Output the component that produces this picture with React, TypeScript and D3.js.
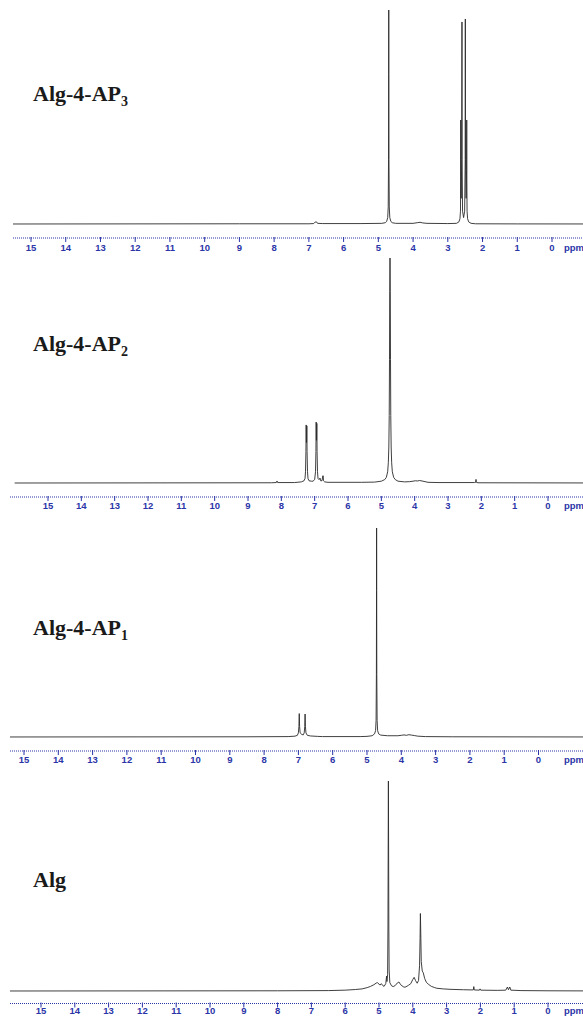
import React from "react";
import * as d3 from "d3";

// ---------- data ----------
const ppmTicks: number[] = [15, 14, 13, 12, 11, 10, 9, 8, 7, 6, 5, 4, 3, 2, 1, 0];
const panelLabels: string[] = ["Alg-4-AP", "Alg-4-AP", "Alg-4-AP", "Alg"];
const panelSubs: string[] = ["3", "2", "1", ""];

// [ppm, relative intensity]
const spectrumAP3: [number, number][] = [
  [16, 0], [9, 0.1], [7.0, 0.1], [6.86, 0.2], [6.82, 0.9], [6.78, 1.0], [6.75, 0.3], [6.6, 0.2], [5.5, 0.2],
  [4.9, 0.3], [4.8, 0.6], [4.76, 1.2], [4.73, 3], [4.715, 8], [4.706, 30], [4.702, 70], [4.7, 100],
  [4.698, 70], [4.694, 30], [4.685, 8], [4.67, 3], [4.64, 1.2], [4.6, 0.6], [4.5, 0.3],
  [4.0, 0.3], [3.88, 0.6], [3.8, 0.8], [3.72, 0.5], [3.6, 0.3], [3.0, 0.2],
  [2.75, 0.3], [2.68, 1], [2.65, 2.5], [2.635, 6], [2.63, 20], [2.627, 48.6], [2.624, 25], [2.615, 12],
  [2.6, 30], [2.592, 94.4], [2.588, 30], [2.575, 6], [2.545, 3], [2.515, 6], [2.499, 30], [2.495, 95.8],
  [2.491, 30], [2.472, 12], [2.46, 25], [2.455, 48.6], [2.451, 20], [2.445, 6], [2.43, 2.5], [2.4, 1],
  [2.33, 0.3], [2.2, 0.1], [1.0, 0.05], [-2, 0],
];

const spectrumAP2: [number, number][] = [
  [16, 0], [8.3, 0.1], [8.15, 0.2], [8.13, 0.9], [8.11, 0.2], [7.6, 0.2], [7.4, 0.5], [7.32, 1], [7.29, 2],
  [7.275, 5], [7.262, 14], [7.255, 25.8], [7.248, 18], [7.242, 18], [7.235, 25.4], [7.228, 14], [7.215, 5],
  [7.2, 2], [7.17, 1], [7.1, 0.8], [7.05, 0.8], [7.0, 1.5], [6.975, 5], [6.962, 14], [6.955, 27.1],
  [6.948, 19], [6.942, 19], [6.935, 26.5], [6.928, 14], [6.915, 5], [6.9, 2], [6.87, 1.5], [6.84, 2.2],
  [6.82, 1], [6.78, 1], [6.755, 3.2], [6.745, 3.2], [6.735, 1], [6.7, 0.5], [6.6, 0.3], [5.6, 0.3],
  [5.2, 0.4], [5.0, 0.8], [4.9, 1.5], [4.85, 2.5], [4.81, 5], [4.79, 9], [4.775, 16], [4.763, 30],
  [4.755, 55], [4.748, 85], [4.74, 100], [4.732, 85], [4.725, 55], [4.717, 30], [4.705, 16], [4.69, 9],
  [4.67, 5], [4.63, 2.5], [4.58, 1.5], [4.5, 0.8], [4.3, 0.5], [4.15, 0.6], [4.05, 0.8], [3.98, 1.0],
  [3.92, 0.9], [3.85, 1.1], [3.78, 0.9], [3.72, 0.7], [3.6, 0.3], [3.3, 0.2], [2.2, 0.2], [2.17, 0.3],
  [2.16, 1.6], [2.15, 0.3], [2.1, 0.1], [-2, 0],
];

const spectrumAP1: [number, number][] = [
  [16, 0], [8.5, 0.1], [7.3, 0.2], [7.1, 0.4], [7.03, 0.8], [7.0, 2], [6.985, 5], [6.975, 11.2],
  [6.965, 5], [6.95, 2], [6.9, 1.2], [6.86, 1], [6.83, 2], [6.815, 5], [6.805, 11], [6.795, 5],
  [6.78, 2], [6.74, 0.8], [6.65, 0.5], [6.45, 0.3], [6.3, 0.2], [5.2, 0.2],
  [5.0, 0.3], [4.85, 0.6], [4.78, 1.5], [4.75, 3], [4.735, 8], [4.726, 30], [4.722, 70], [4.72, 100],
  [4.718, 70], [4.714, 30], [4.705, 8], [4.69, 3], [4.66, 1.5], [4.6, 0.9], [4.4, 0.6], [4.1, 0.6],
  [4.0, 0.8], [3.92, 1.0], [3.85, 0.8], [3.78, 1.1], [3.7, 0.9], [3.62, 0.7], [3.52, 0.4], [3.3, 0.2],
  [2.5, 0.1], [-2, 0],
];

const spectrumAlg: [number, number][] = [
  [16, 0], [8, 0.1], [6.5, 0.2], [6.0, 0.4], [5.7, 0.7], [5.5, 1.0], [5.35, 1.6], [5.25, 2.2],
  [5.15, 3.0], [5.08, 3.8], [5.05, 4.0], [5.0, 3.3], [4.97, 2.8], [4.93, 3.5], [4.89, 2.6], [4.85, 2.2],
  [4.8, 3.5], [4.775, 7.1], [4.765, 4.5], [4.745, 8], [4.735, 30], [4.728, 70], [4.722, 100],
  [4.716, 70], [4.709, 30], [4.7, 10], [4.68, 4], [4.63, 2.5], [4.58, 2.1], [4.52, 2.6], [4.46, 3.8],
  [4.41, 4.3], [4.36, 3.0], [4.28, 2.0], [4.23, 1.8], [4.17, 2.3], [4.13, 2.7], [4.06, 3.5], [4.0, 5.5],
  [3.96, 6.5], [3.92, 5.0], [3.87, 3.7], [3.83, 5], [3.8, 12], [3.785, 25], [3.775, 36.9], [3.765, 28],
  [3.75, 14], [3.72, 9.5], [3.69, 8.7], [3.65, 6], [3.6, 4.2], [3.54, 3.2], [3.45, 2.2], [3.35, 1.6],
  [3.29, 1.3], [3.1, 1.0], [2.9, 0.8], [2.5, 0.6], [2.21, 0.5], [2.195, 2.1], [2.18, 0.5], [2.03, 0.4],
  [2.01, 1.0], [1.99, 0.4], [1.5, 0.3], [1.25, 0.4], [1.2, 1.9], [1.17, 0.6], [1.13, 1.9], [1.1, 0.4],
  [0.8, 0.2], [0, 0.1], [-2, 0],
];

const spectra = [spectrumAP3, spectrumAP2, spectrumAP1, spectrumAlg];

// ---------- layout ----------
const W = 583;
const H = 1017;
const layout = [
  { x15: 31, x0: 552, base: 224, top: 10, axisY: 238, tickY: 250.5, left: 13, labelY: 101 },
  { x15: 48, x0: 548, base: 483, top: 258, axisY: 497, tickY: 508.5, left: 10, labelY: 351 },
  { x15: 24, x0: 538.5, base: 737, top: 528, axisY: 751, tickY: 763, left: 10, labelY: 635 },
  { x15: 41, x0: 548, base: 991, top: 781, axisY: 1003.5, tickY: 1013.5, left: 10, labelY: 887 },
];

const axisColor = "#2b35a8";

function Panel({ i }: { i: number }) {
  const L = layout[i];
  const x = d3.scaleLinear().domain([15, 0]).range([L.x15, L.x0]);
  const y = d3.scaleLinear().domain([0, 100]).range([L.base, L.top]);
  const line = d3
    .line<[number, number]>()
    .x((d) => x(d[0]))
    .y((d) => y(d[1]));
  const clipId = `clip${i}`;
  return (
    <g>
      <defs>
        <clipPath id={clipId}>
          <rect x={L.left} y={0} width={W - L.left} height={H} />
        </clipPath>
      </defs>
      <path
        d={line(spectra[i]) || ""}
        fill="none"
        stroke="#2a2a2a"
        strokeWidth={0.9}
        clipPath={`url(#${clipId})`}
      />
      {/* axis */}
      <line
        x1={L.left}
        x2={W}
        y1={L.axisY}
        y2={L.axisY}
        stroke={axisColor}
        strokeWidth={1}
        strokeDasharray="1 1"
      />
      {ppmTicks.map((t) => (
        <g key={t}>
          <line x1={x(t)} x2={x(t)} y1={L.axisY - 1} y2={L.axisY + 4} stroke={axisColor} strokeWidth={1} />
          <text
            x={x(t)}
            y={L.tickY}
            textAnchor="middle"
            fontFamily="'Liberation Sans', Arial, sans-serif"
            fontWeight="bold"
            fontSize={9.5}
            fill={axisColor}
          >
            {t}
          </text>
        </g>
      ))}
      <text
        x={574}
        y={L.tickY}
        textAnchor="middle"
        fontFamily="'Liberation Sans', Arial, sans-serif"
        fontWeight="bold"
        fontSize={9.5}
        fill={axisColor}
      >
        ppm
      </text>
      <text
        x={33}
        y={L.labelY}
        fontFamily="'Liberation Serif', 'Times New Roman', serif"
        fontWeight="bold"
        fontSize={22}
        fill="#1a1a1a"
      >
        {panelLabels[i]}
        {panelSubs[i] && (
          <tspan fontSize={14} dy={5}>
            {panelSubs[i]}
          </tspan>
        )}
      </text>
    </g>
  );
}

export default function App() {
  return (
    <svg
      width={W}
      height={H}
      viewBox={`0 0 ${W} ${H}`}
      style={{ position: "absolute", left: 0, top: 0, background: "#fff" }}
    >
      <rect x={0} y={0} width={W} height={H} fill="#fff" />
      {layout.map((_, i) => (
        <Panel key={i} i={i} />
      ))}
    </svg>
  );
}
